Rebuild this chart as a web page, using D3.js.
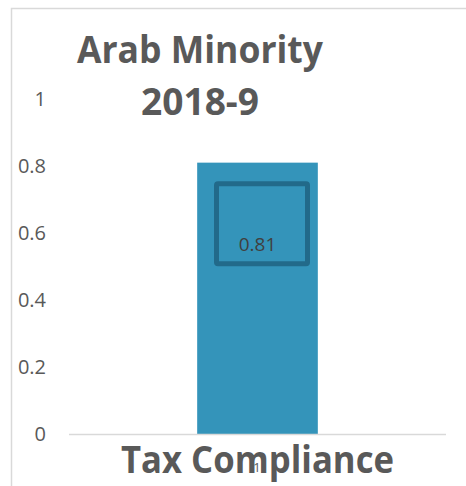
<!DOCTYPE html>
<html>
<head>
<meta charset="utf-8">
<script src="https://cdn.jsdelivr.net/npm/d3@7"></script>
<style>
  body { margin: 0; background: #fff; }
  text { font-family: "Open Sans", "Noto Sans", sans-serif; }
</style>
</head>
<body>
<div id="chart"></div>
<script>
// donnees du graphique
const categories = ["Tax Compliance"];
const values = [0.81];
const tickValues = [0, 0.2, 0.4, 0.6, 0.8, 1];
const titleLines = ["Arab Minority", "2018-9"];

const width = 466;
const height = 486;

const svg = d3.select("#chart")
  .append("svg")
  .attr("width", width)
  .attr("height", height);

// cadre gris clair (haut + gauche)
svg.append("path")
  .attr("d", "M11.5,486 V8.5 H466")
  .attr("fill", "none")
  .attr("stroke", "#d9d9d9")
  .attr("stroke-width", 1.5);

// echelles
const y = d3.scaleLinear().domain([0, 1]).range([434, 99]);
const x = d3.scaleBand().domain(categories).range([69, 446]).paddingInner(0.68).paddingOuter(0.34);

// labels axe y
svg.selectAll(".tick")
  .data(tickValues)
  .enter()
  .append("text")
  .attr("class", "tick")
  .attr("x", 46)
  .attr("y", d => y(d) + 7)
  .attr("text-anchor", "end")
  .attr("font-size", 20)
  .attr("fill", "#595959")
  .text(d => d3.format("~g")(d));

// barre
svg.selectAll("rect.bar")
  .data(values)
  .enter()
  .append("rect")
  .attr("class", "bar")
  .attr("x", (d, i) => x(categories[i]))
  .attr("y", d => y(d))
  .attr("width", x.bandwidth())
  .attr("height", d => y(0) - y(d))
  .attr("fill", "#3494ba");

// ligne de base
svg.append("line")
  .attr("x1", 69).attr("x2", 446)
  .attr("y1", y(0) + 0.5).attr("y2", y(0) + 0.5)
  .attr("stroke", "#d9d9d9")
  .attr("stroke-width", 1.5);

// boite du label
values.forEach((v, i) => {
  const cx = x(categories[i]) + x.bandwidth() / 2;
  svg.append("rect")
    .attr("x", cx - 41)
    .attr("y", y(v) + 21)
    .attr("width", 91)
    .attr("height", 80)
    .attr("rx", 1.5)
    .attr("fill", "none")
    .attr("stroke", "#226a8a")
    .attr("stroke-width", 5);
  svg.append("text")
    .attr("x", cx)
    .attr("y", y(v) + 88)
    .attr("text-anchor", "middle")
    .attr("font-size", 19)
    .attr("fill", "#404040")
    .text(v);
});

// petit "1" derriere le nom de categorie
svg.append("text")
  .attr("x", 257)
  .attr("y", 472)
  .attr("text-anchor", "middle")
  .attr("font-size", 13)
  .attr("fill", "#595959")
  .text("1");

// nom de categorie
svg.selectAll(".cat")
  .data(categories)
  .enter()
  .append("text")
  .attr("class", "cat")
  .attr("x", d => x(d) + x.bandwidth() / 2)
  .attr("y", 473)
  .attr("text-anchor", "middle")
  .attr("font-size", 37)
  .attr("font-weight", "bold")
  .attr("fill", "#595959")
  .attr("textLength", 273)
  .attr("lengthAdjust", "spacingAndGlyphs")
  .text(d => d);

// titre
const titleWidths = [246, 118];
svg.selectAll(".title")
  .data(titleLines)
  .enter()
  .append("text")
  .attr("class", "title")
  .attr("x", 200)
  .attr("y", (d, i) => 63 + i * 52)
  .attr("text-anchor", "middle")
  .attr("font-size", 38)
  .attr("font-weight", "bold")
  .attr("fill", "#595959")
  .attr("textLength", (d, i) => titleWidths[i])
  .attr("lengthAdjust", "spacingAndGlyphs")
  .text(d => d);
</script>
</body>
</html>
